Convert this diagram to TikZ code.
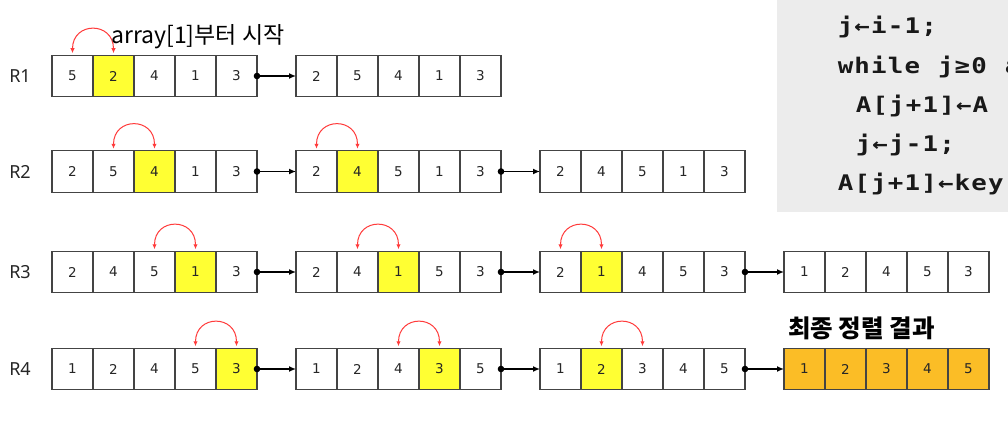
\documentclass[tikz,border=0pt]{standalone}
\usepackage{fontspec}
\setmainfont{Noto Sans}
\newfontfamily\kr{Noto Sans CJK KR}
\newfontfamily\codefont{DejaVu Sans Mono}
\newfontfamily\digitfont{DejaVu Sans}
\usetikzlibrary{arrows.meta}
\definecolor{cellborder}{HTML}{444444}
\definecolor{hl}{HTML}{FFFF33}
\definecolor{fin}{HTML}{FBBD26}
\definecolor{arcred}{HTML}{FF3B3B}
\definecolor{codebg}{HTML}{ECECEC}
\def\mcharsEnd{MCEND}
\newcommand\mchars[1]{\scalebox{1.2}[1]{\mcharsA#1\mcharsEnd}}
\def\mcharsA#1{\ifx#1\mcharsEnd\else\makebox[13.92pt]{#1}\expandafter\mcharsA\fi}
\tikzset{
 cell/.style={draw=cellborder, line width=1.3pt, minimum width=41pt, minimum height=41.5pt, inner sep=0pt, outer sep=0pt, font=\digitfont\fontsize{13.5}{15}\selectfont, text=black!85},
 rowlabel/.style={font=\fontsize{18}{20}\selectfont, text=black!85},
 conn/.style={line width=1.5pt, -{Latex[length=7pt,width=6pt]}},
 swaparc/.style={arcred, line width=1pt, {Latex[length=5pt,width=4.5pt]}-{Latex[length=5pt,width=4.5pt]}},
 codeline/.style={anchor=base west, inner sep=0pt, font=\codefont\bfseries\fontsize{21.5}{24}\selectfont, text=black!90},
}
\newcommand\arr[4]{\foreach \v/\f [count=\i from 0] in {#4}{\node[cell,fill=\f] (#1-\i) at ({#2+20.5+41*\i},#3) {\v};}}
\newcommand\link[2]{\fill[black] (#1.east) circle (3.3pt); \draw[conn] (#1.east) -- (#2.west);}
\newcommand\swp[2]{\draw[swaparc] ([yshift=2pt]#1.north) .. controls +(0,-32) and +(0,-32) .. ([yshift=2pt]#2.north);}
\begin{document}
\begin{tikzpicture}[x=1pt,y=-1pt]
\useasboundingbox (0,0) rectangle (1008,444);
\fill[white] (0,0) rectangle (1008,444);
% code box
\fill[codebg] (777,0) rectangle (1008,212);
\begin{scope}
\clip (777,0) rectangle (1008,212);
\node[codeline] (c1) at (837,34) {\mchars{j←i-1;}};
\node[codeline] (c2) at (837,73) {\mchars{while~j≥0~a}};
\node[codeline] (c3) at (855,112) {\mchars{A[j+1]←A}};
\node[codeline] (c4) at (855,151) {\mchars{j←j-1;}};
\node[codeline] (c5) at (837,190) {\mchars{A[j+1]←key}};
\end{scope}
% row labels
\node[rowlabel] (l1) at (20,76) {R1};
\node[rowlabel] (l2) at (20,171.5) {R2};
\node[rowlabel] (l3) at (20,272) {R3};
\node[rowlabel] (l4) at (20,369) {R4};
% R1
\arr{r1a}{52}{76}{5/white,2/hl,4/white,1/white,3/white}
\arr{r1b}{296}{76}{2/white,5/white,4/white,1/white,3/white}
\link{r1a-4}{r1b-0}
\swp{r1a-0}{r1a-1}
% R2
\arr{r2a}{52}{171.5}{2/white,5/white,4/hl,1/white,3/white}
\arr{r2b}{296}{171.5}{2/white,4/hl,5/white,1/white,3/white}
\arr{r2c}{540}{171.5}{2/white,4/white,5/white,1/white,3/white}
\link{r2a-4}{r2b-0}
\link{r2b-4}{r2c-0}
\swp{r2a-1}{r2a-2}
\swp{r2b-0}{r2b-1}
% R3
\arr{r3a}{52}{272}{2/white,4/white,5/white,1/hl,3/white}
\arr{r3b}{296}{272}{2/white,4/white,1/hl,5/white,3/white}
\arr{r3c}{540}{272}{2/white,1/hl,4/white,5/white,3/white}
\arr{r3d}{784}{272}{1/white,2/white,4/white,5/white,3/white}
\link{r3a-4}{r3b-0}
\link{r3b-4}{r3c-0}
\link{r3c-4}{r3d-0}
\swp{r3a-2}{r3a-3}
\swp{r3b-1}{r3b-2}
\swp{r3c-0}{r3c-1}
% R4
\arr{r4a}{52}{369}{1/white,2/white,4/white,5/white,3/hl}
\arr{r4b}{296}{369}{1/white,2/white,4/white,3/hl,5/white}
\arr{r4c}{540}{369}{1/white,2/hl,3/white,4/white,5/white}
\arr{r4d}{784}{369}{1/fin,2/fin,3/fin,4/fin,5/fin}
\link{r4a-4}{r4b-0}
\link{r4b-4}{r4c-0}
\link{r4c-4}{r4d-0}
\swp{r4a-3}{r4a-4}
\swp{r4b-2}{r4b-3}
\swp{r4c-1}{r4c-2}
% annotations
\node[anchor=west, inner sep=0pt, font=\kr\fontsize{23}{25}\selectfont] (t1) at (111,37) {array[1]부터 시작};
\node[anchor=west, inner sep=0pt, font=\kr\bfseries\fontsize{24.5}{26}\selectfont] (t2) at (788,328) {최종 정렬 결과};
\end{tikzpicture}
\end{document}
